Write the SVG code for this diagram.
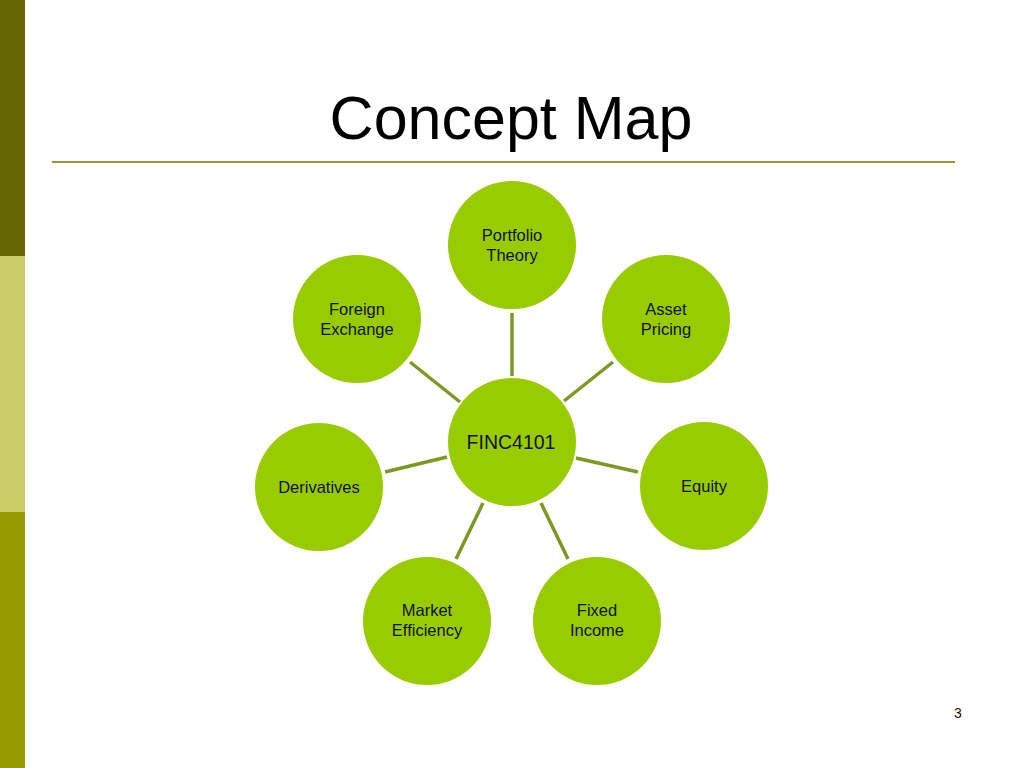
<svg xmlns="http://www.w3.org/2000/svg" width="1024" height="768" viewBox="0 0 1024 768">
<style>
.node{fill:#99cc00;}
.lbl{font-family:"Liberation Sans",Arial,sans-serif;font-size:16.5px;fill:#111;text-anchor:middle;}
.conn line{stroke:#7a9a22;stroke-width:3.5;}
</style>
<rect x="0" y="0" width="1024" height="768" fill="#ffffff"/>
<rect x="0" y="0" width="25" height="256" fill="#666600"/>
<rect x="0" y="256" width="25" height="256" fill="#cccc66"/>
<rect x="0" y="512" width="25" height="256" fill="#999900"/>
<text x="511" y="139" font-family="Liberation Sans, Arial, sans-serif" font-size="61" fill="#000" text-anchor="middle">Concept Map</text>
<line x1="52" y1="162" x2="955" y2="162" stroke="#999933" stroke-width="2"/>
<g class="conn" id="connectors">
<line x1="512" y1="313" x2="512" y2="376"/>
<line x1="410" y1="362" x2="460" y2="402"/>
<line x1="613" y1="362" x2="564" y2="401"/>
<line x1="385" y1="472" x2="447" y2="457"/>
<line x1="576" y1="458" x2="638" y2="472"/>
<line x1="483" y1="503" x2="456" y2="559"/>
<line x1="541" y1="503" x2="568" y2="559"/>
</g>
<g id="finc4101"><circle class="node" cx="512" cy="442" r="64"/><text class="lbl" x="511" y="449" style="font-size:19.5px">FINC4101</text></g>
<g id="portfolio-theory"><circle class="node" cx="512" cy="245" r="64"/><text class="lbl" x="512" y="241">Portfolio</text><text class="lbl" x="512" y="261">Theory</text></g>
<g id="asset-pricing"><circle class="node" cx="666" cy="319" r="64"/><text class="lbl" x="666" y="315">Asset</text><text class="lbl" x="666" y="335">Pricing</text></g>
<g id="foreign-exchange"><circle class="node" cx="357" cy="319" r="64"/><text class="lbl" x="357" y="315">Foreign</text><text class="lbl" x="357" y="335">Exchange</text></g>
<g id="derivatives"><circle class="node" cx="319" cy="487" r="64"/><text class="lbl" x="319" y="493">Derivatives</text></g>
<g id="equity"><circle class="node" cx="704" cy="486" r="64"/><text class="lbl" x="704" y="492">Equity</text></g>
<g id="market-efficiency"><circle class="node" cx="427" cy="621" r="64"/><text class="lbl" x="427" y="616">Market</text><text class="lbl" x="427" y="636">Efficiency</text></g>
<g id="fixed-income"><circle class="node" cx="597" cy="621" r="64"/><text class="lbl" x="597" y="616">Fixed</text><text class="lbl" x="597" y="636">Income</text></g>
<text x="958" y="718" font-family="Liberation Sans, Arial, sans-serif" font-size="14" fill="#111" text-anchor="middle">3</text>
</svg>
